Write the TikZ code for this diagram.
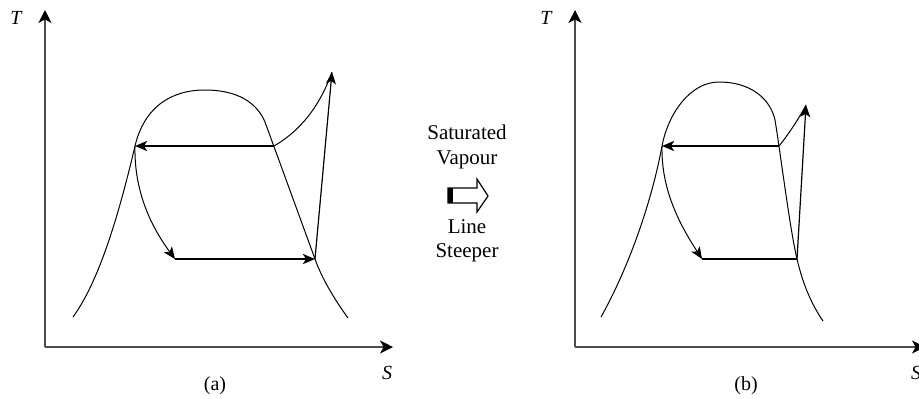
\documentclass[tikz,border=0pt]{standalone}
\usepackage{fontspec}
\setmainfont{Liberation Serif}
\usetikzlibrary{arrows.meta}
\begin{document}
\begin{tikzpicture}[x=0.5pt,y=-0.5pt,
  thincurve/.style={line width=0.5pt},
  thickline/.style={line width=1.3pt},
  axis/.style={line width=0.6pt, draw=black!70, -{Stealth[length=6.5pt,width=6.5pt,inset=1.8pt,color=black]}},
  tip/.style={-{Stealth[length=6pt,width=5pt,inset=1.5pt]}},
  axlbl/.style={font=\fontsize{10}{12}\selectfont\itshape, inner sep=0pt},
  caplbl/.style={font=\fontsize{10}{12}\selectfont, inner sep=0pt},
  midtext/.style={font=\fontsize{10.5}{12.2}\selectfont, align=center, inner sep=0pt}
]
\useasboundingbox (0,0) rectangle (919,398);

% ---------- (a) ----------
\coordinate (oa) at (45,347);
\coordinate (ya) at (45,10);
\coordinate (xa) at (393,347);
\draw[axis] (oa) -- (ya);
\draw[axis] (oa) -- (xa);
\node[axlbl] (Ta) at (16,18) {T};
\node[axlbl] (Sa) at (387,373) {S};
\node[caplbl] (capa) at (215,386) {(a)};

\coordinate (a1) at (135,146);
\coordinate (a2) at (274,146);
\coordinate (a3) at (332,72);
\coordinate (a4) at (175,259);
\coordinate (a5) at (315,259);

\draw[thincurve] (73,317) .. controls (100,280) and (120,210) .. (a1)
  .. controls (144,108) and (170,90) .. (205,90)
  .. controls (238,90) and (257,103) .. (265,122)
  -- (a5) .. controls (322,279) and (335,300) .. (348,318);

\draw[thickline, tip] (a2) -- (a1);
\draw[thickline, tip] (a4) -- (a5);
\draw[thincurve, tip] (a1) .. controls (134,190) and (150,225) .. (a4);
\draw[thincurve] (a2) .. controls (305,128) and (322,100) .. (a3);
\draw[line width=0.6pt, tip] (a5) -- (a3);

% ---------- middle ----------
\node[midtext] (top) at (467,147) {Saturated\\Vapour};
\node[midtext] (bot) at (467,241) {Line\\Steeper};
\draw[line width=0.6pt, fill=white] (448,188) -- (477,188) -- (477,179) -- (488,196) -- (477,212) -- (477,203) -- (448,203) -- cycle;
\fill (448,188) rectangle (453,203);

% ---------- (b) ----------
\coordinate (ob) at (575,347);
\coordinate (yb) at (575,10);
\coordinate (xb) at (925,347);
\draw[axis] (ob) -- (yb);
\draw[axis] (ob) -- (xb);
\node[axlbl] (Tb) at (546,18) {T};
\node[axlbl] (Sb) at (916,373) {S};
\node[caplbl] (capb) at (746,386) {(b)};

\coordinate (b1) at (662,146);
\coordinate (b2) at (779,146);
\coordinate (b3) at (806,105);
\coordinate (b4) at (702,259);
\coordinate (b5) at (797,259);

\draw[thincurve] (601,317) .. controls (630,265) and (652,200) .. (b1)
  .. controls (668,114) and (690,82) .. (719,82)
  .. controls (750,82) and (770,98) .. (775,120)
  .. controls (780,150) and (790,230) .. (b5)
  .. controls (803,285) and (812,305) .. (823,321);

\draw[thickline, tip] (b2) -- (b1);
\draw[thickline] (b4) -- (b5);
\draw[thincurve, tip] (b1) .. controls (661,190) and (680,225) .. (b4);
\draw[thincurve] (b2) .. controls (788,135) and (798,120) .. (b3);
\draw[line width=0.6pt, tip] (b5) -- (b3);
\end{tikzpicture}
\end{document}
